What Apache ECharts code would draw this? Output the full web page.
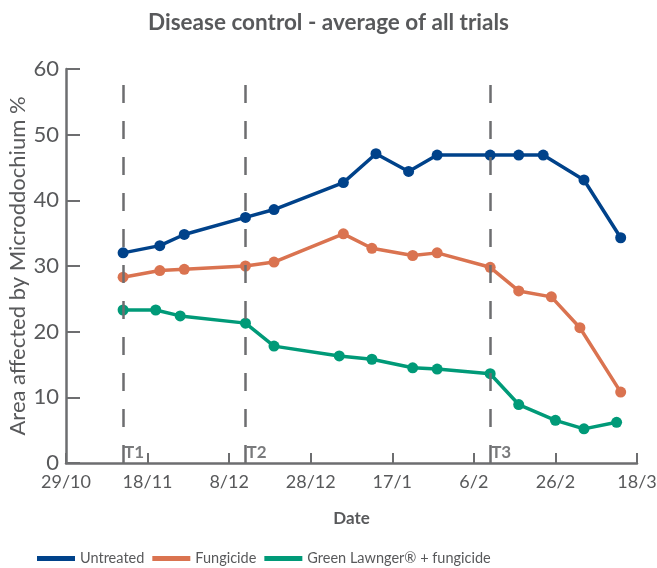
<!DOCTYPE html>
<html>
<head>
<meta charset="utf-8">
<script src="https://cdn.jsdelivr.net/npm/echarts@6/dist/echarts.min.js"></script>
<style>html,body{margin:0;padding:0;background:#fff}#c{width:657px;height:568px}</style>
</head>
<body>
<div id="c"></div>
<script>
// ---- data ----
var startDate = '2018-10-29';
var endDate = '2019-03-18';
var tickStepDays = 20;
var untreatedDates = ['2018-11-12','2018-11-21','2018-11-27','2018-12-12','2018-12-19','2019-01-05','2019-01-13','2019-01-21','2019-01-28','2019-02-10','2019-02-17','2019-02-23','2019-03-05','2019-03-14'];
var untreatedValues = [32.0,33.1,34.8,37.4,38.6,42.7,47.1,44.4,46.9,46.9,46.9,46.9,43.1,34.3];
var fungicideDates = ['2018-11-12','2018-11-21','2018-11-27','2018-12-12','2018-12-19','2019-01-05','2019-01-12','2019-01-22','2019-01-28','2019-02-10','2019-02-17','2019-02-25','2019-03-04','2019-03-14'];
var fungicideValues = [28.3,29.3,29.5,30.0,30.6,34.9,32.7,31.6,32.0,29.8,26.2,25.3,20.6,10.8];
var greenDates = ['2018-11-12','2018-11-20','2018-11-26','2018-12-12','2018-12-19','2019-01-04','2019-01-12','2019-01-22','2019-01-28','2019-02-10','2019-02-17','2019-02-26','2019-03-05','2019-03-13'];
var greenValues = [23.3,23.3,22.4,21.3,17.8,16.3,15.8,14.5,14.3,13.6,8.9,6.5,5.2,6.2];
var treatmentDates = ['2018-11-12','2018-12-12','2019-02-10'];
var treatmentLabels = ['T1','T2','T3'];
var seriesNames = ['Untreated','Fungicide','Green Lawnger\u00ae + fungicide'];

// ---- helpers ----
function toUTC(s){var p=s.split('-');return Date.UTC(+p[0],+p[1]-1,+p[2]);}
var DAY = 86400000;
var t0 = toUTC(startDate);
function dayOf(s){return Math.round((toUTC(s)-t0)/DAY);}
function pairs(dates, vals){return dates.map(function(d,i){return [dayOf(d), vals[i]];});}
function fmtDay(v){var d=new Date(t0+v*DAY);return d.getUTCDate()+'/'+(d.getUTCMonth()+1);}

var txt = '#58595b';
var axisCol = '#6d6e70';
var colors = ['#00428a','#da7350','#009a78'];

var chart = echarts.init(document.getElementById('c'));
function lineSeries(name, data, color){
  return {name:name,type:'line',data:data,symbol:'circle',symbolSize:11,
    lineStyle:{width:3.5,color:color},itemStyle:{color:color},z:3};
}
var s0 = lineSeries(seriesNames[0], pairs(untreatedDates,untreatedValues), colors[0]);
s0.markLine = {silent:true,symbol:['none','none'],label:{show:false},
  lineStyle:{color:axisCol,type:[18,18],width:2.5},
  data: treatmentDates.map(function(d){return {xAxis:dayOf(d)};})};
var tSeries = {name:'treat',type:'scatter',symbolSize:0,silent:true,
  data: treatmentDates.map(function(d,i){return {value:[dayOf(d),0],name:treatmentLabels[i]};}),
  label:{show:true,position:'right',distance:1,offset:[0,-10],formatter:function(p){return p.name;},
    color:txt,fontWeight:'bold',fontSize:17,fontFamily:'Lato'}};

chart.setOption({
  animation:false,
  textStyle:{fontFamily:'Lato'},
  title:{text:'Disease control - average of all trials',left:'center',top:6,
    textStyle:{color:txt,fontSize:22.5,fontWeight:'bold',fontFamily:'Lato'}},
  legend:{data:seriesNames,left:32,top:546,icon:'rect',itemWidth:38,itemHeight:5,itemGap:8,
    textStyle:{color:txt,fontSize:14.5,fontFamily:'Lato'}},
  grid:{left:66,right:20,top:69,bottom:105,outerBoundsMode:'none',containLabel:false},
  xAxis:{type:'value',min:0,max:dayOf(endDate),interval:tickStepDays,
    name:'Date',nameLocation:'middle',nameGap:47,nameMoveOverlap:false,
    nameTextStyle:{color:txt,fontSize:17,fontWeight:'bold',fontFamily:'Lato'},
    axisLine:{lineStyle:{color:axisCol,width:2.5}},
    axisTick:{inside:true,length:10,lineStyle:{color:axisCol,width:2}},
    axisLabel:{color:txt,fontSize:18,margin:10,formatter:fmtDay,fontFamily:'Lato'},
    splitLine:{show:false}},
  yAxis:{type:'value',min:0,max:60,interval:10,
    name:'Area affected by Microddochium %',nameLocation:'middle',nameGap:37,nameMoveOverlap:false,
    nameTextStyle:{color:txt,fontSize:22,fontFamily:'Lato'},
    axisLine:{show:true,lineStyle:{color:axisCol,width:2.5}},
    axisTick:{show:true,inside:true,length:14,lineStyle:{color:axisCol,width:2}},
    axisLabel:{color:txt,fontSize:22,margin:7,fontFamily:'Lato'},
    splitLine:{show:false}},
  series:[s0,
    lineSeries(seriesNames[1], pairs(fungicideDates,fungicideValues), colors[1]),
    lineSeries(seriesNames[2], pairs(greenDates,greenValues), colors[2]),
    tSeries]
});
</script>
</body>
</html>
